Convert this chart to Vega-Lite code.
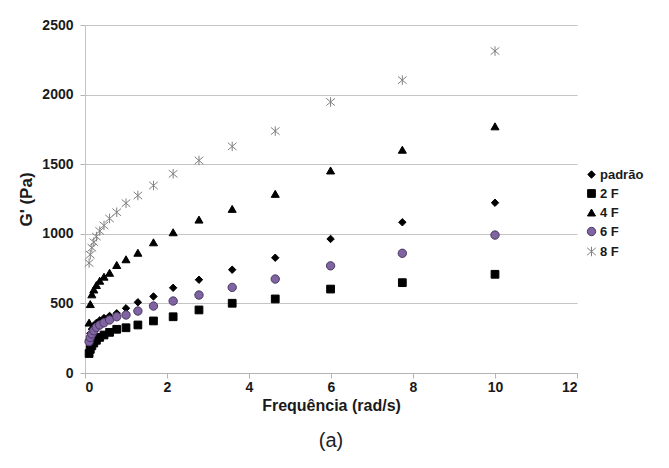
{
  "$schema": "https://vega.github.io/schema/vega-lite/v6.json",
  "autosize": {"type": "none"},
  "width": 492,
  "height": 348,
  "padding": {"left": 85, "top": 25, "right": 92, "bottom": 95},
  "background": "white",
  "title": {"text": "(a)", "orient": "bottom", "anchor": "middle", "offset": 18, "fontSize": 20, "fontWeight": "normal", "font": "Liberation Sans", "color": "#222"},
  "config": {
    "view": {"stroke": null},
    "font": "Liberation Sans"
  },
  "data": {"values": [
    {"s": "padrão", "f": 0.1, "g": 240}, {"s": "padrão", "f": 0.129, "g": 285}, {"s": "padrão", "f": 0.167, "g": 315}, {"s": "padrão", "f": 0.215, "g": 340}, {"s": "padrão", "f": 0.278, "g": 360}, {"s": "padrão", "f": 0.359, "g": 378}, {"s": "padrão", "f": 0.464, "g": 395}, {"s": "padrão", "f": 0.599, "g": 410}, {"s": "padrão", "f": 0.774, "g": 429}, {"s": "padrão", "f": 1.0, "g": 465}, {"s": "padrão", "f": 1.29, "g": 508}, {"s": "padrão", "f": 1.67, "g": 550}, {"s": "padrão", "f": 2.15, "g": 612}, {"s": "padrão", "f": 2.78, "g": 670}, {"s": "padrão", "f": 3.59, "g": 742}, {"s": "padrão", "f": 4.64, "g": 828}, {"s": "padrão", "f": 5.99, "g": 963}, {"s": "padrão", "f": 7.74, "g": 1083}, {"s": "padrão", "f": 10, "g": 1223},
    {"s": "2 F", "f": 0.1, "g": 140}, {"s": "2 F", "f": 0.129, "g": 170}, {"s": "2 F", "f": 0.167, "g": 195}, {"s": "2 F", "f": 0.215, "g": 215}, {"s": "2 F", "f": 0.278, "g": 235}, {"s": "2 F", "f": 0.359, "g": 256}, {"s": "2 F", "f": 0.464, "g": 273}, {"s": "2 F", "f": 0.599, "g": 292}, {"s": "2 F", "f": 0.774, "g": 314}, {"s": "2 F", "f": 1.0, "g": 325}, {"s": "2 F", "f": 1.29, "g": 345}, {"s": "2 F", "f": 1.67, "g": 374}, {"s": "2 F", "f": 2.15, "g": 404}, {"s": "2 F", "f": 2.78, "g": 453}, {"s": "2 F", "f": 3.59, "g": 501}, {"s": "2 F", "f": 4.64, "g": 532}, {"s": "2 F", "f": 5.99, "g": 603}, {"s": "2 F", "f": 7.74, "g": 649}, {"s": "2 F", "f": 10, "g": 709},
    {"s": "4 F", "f": 0.1, "g": 362}, {"s": "4 F", "f": 0.129, "g": 495}, {"s": "4 F", "f": 0.167, "g": 565}, {"s": "4 F", "f": 0.215, "g": 600}, {"s": "4 F", "f": 0.278, "g": 632}, {"s": "4 F", "f": 0.359, "g": 663}, {"s": "4 F", "f": 0.464, "g": 692}, {"s": "4 F", "f": 0.599, "g": 720}, {"s": "4 F", "f": 0.774, "g": 776}, {"s": "4 F", "f": 1.0, "g": 817}, {"s": "4 F", "f": 1.29, "g": 864}, {"s": "4 F", "f": 1.67, "g": 939}, {"s": "4 F", "f": 2.15, "g": 1011}, {"s": "4 F", "f": 2.78, "g": 1102}, {"s": "4 F", "f": 3.59, "g": 1179}, {"s": "4 F", "f": 4.64, "g": 1287}, {"s": "4 F", "f": 5.99, "g": 1455}, {"s": "4 F", "f": 7.74, "g": 1604}, {"s": "4 F", "f": 10, "g": 1772},
    {"s": "6 F", "f": 0.1, "g": 225}, {"s": "6 F", "f": 0.129, "g": 255}, {"s": "6 F", "f": 0.167, "g": 280}, {"s": "6 F", "f": 0.215, "g": 304}, {"s": "6 F", "f": 0.278, "g": 328}, {"s": "6 F", "f": 0.359, "g": 345}, {"s": "6 F", "f": 0.464, "g": 361}, {"s": "6 F", "f": 0.599, "g": 381}, {"s": "6 F", "f": 0.774, "g": 404}, {"s": "6 F", "f": 1.0, "g": 417}, {"s": "6 F", "f": 1.29, "g": 445}, {"s": "6 F", "f": 1.67, "g": 481}, {"s": "6 F", "f": 2.15, "g": 517}, {"s": "6 F", "f": 2.78, "g": 560}, {"s": "6 F", "f": 3.59, "g": 615}, {"s": "6 F", "f": 4.64, "g": 675}, {"s": "6 F", "f": 5.99, "g": 770}, {"s": "6 F", "f": 7.74, "g": 860}, {"s": "6 F", "f": 10, "g": 991},
    {"s": "8 F", "f": 0.1, "g": 790}, {"s": "8 F", "f": 0.129, "g": 850}, {"s": "8 F", "f": 0.167, "g": 900}, {"s": "8 F", "f": 0.215, "g": 940}, {"s": "8 F", "f": 0.278, "g": 980}, {"s": "8 F", "f": 0.359, "g": 1020}, {"s": "8 F", "f": 0.464, "g": 1060}, {"s": "8 F", "f": 0.599, "g": 1110}, {"s": "8 F", "f": 0.774, "g": 1155}, {"s": "8 F", "f": 1.0, "g": 1220}, {"s": "8 F", "f": 1.29, "g": 1275}, {"s": "8 F", "f": 1.67, "g": 1347}, {"s": "8 F", "f": 2.15, "g": 1431}, {"s": "8 F", "f": 2.78, "g": 1527}, {"s": "8 F", "f": 3.59, "g": 1628}, {"s": "8 F", "f": 4.64, "g": 1738}, {"s": "8 F", "f": 5.99, "g": 1947}, {"s": "8 F", "f": 7.74, "g": 2104}, {"s": "8 F", "f": 10, "g": 2313}
  ]},
  "mark": {"type": "point", "filled": true, "opacity": 1, "strokeWidth": 1},
  "encoding": {
    "x": {
      "field": "f", "type": "quantitative",
      "scale": {"domain": [0, 12], "nice": false, "zero": true},
      "axis": {
        "values": [0, 2, 4, 6, 8, 10, 12],
        "format": "d",
        "title": "Frequência (rad/s)",
        "grid": false,
        "domainColor": "#b3b3b3", "tickColor": "#b3b3b3", "tickSize": 5,
        "labelFont": "Liberation Sans", "labelFontWeight": "bold", "labelFontSize": 14, "labelColor": "#1a1a1a", "labelPadding": 2,
        "titleFont": "Liberation Sans", "titleFontWeight": "bold", "titleFontSize": 16, "titleColor": "#1a1a1a", "titlePadding": 3
      }
    },
    "y": {
      "field": "g", "type": "quantitative",
      "scale": {"domain": [0, 2500], "nice": false},
      "axis": {
        "values": [0, 500, 1000, 1500, 2000, 2500],
        "format": "d",
        "title": "G' (Pa)",
        "grid": true, "gridColor": "#c4c4c4", "gridWidth": 1,
        "domainColor": "#c4c4c4", "tickColor": "#b3b3b3", "tickSize": 5,
        "labelFont": "Liberation Sans", "labelFontWeight": "bold", "labelFontSize": 14, "labelColor": "#1a1a1a", "labelPadding": 7,
        "titleFont": "Liberation Sans", "titleFontWeight": "bold", "titleFontSize": 17, "titleColor": "#1a1a1a", "titlePadding": 6
      }
    },
    "color": {
      "field": "s", "type": "nominal",
      "scale": {"domain": ["padrão", "2 F", "4 F", "6 F", "8 F"], "range": ["#000000", "#000000", "#000000", "#8064a2", "#808080"]},
      "legend": {
        "title": null, "orient": "none", "legendX": 500, "legendY": 143, "direction": "vertical",
        "labelFont": "Liberation Sans", "labelFontWeight": "bold", "labelFontSize": 13, "labelColor": "#1a1a1a",
        "rowPadding": 5, "symbolSize": 60, "labelOffset": 2, "padding": 0, "symbolStrokeWidth": 1
      }
    },
    "shape": {
      "field": "s", "type": "nominal",
      "scale": {"domain": ["padrão", "2 F", "4 F", "6 F", "8 F"], "range": ["diamond", "square", "triangle-up", "circle", "M-1,-0.85L1,0.85M-1,0.85L1,-0.85M0,-1.1L0,1.1"]}
    },
    "stroke": {
      "field": "s", "type": "nominal",
      "scale": {"domain": ["padrão", "2 F", "4 F", "6 F", "8 F"], "range": ["#000000", "#000000", "#000000", "#4a3a63", "#808080"]}
    },
    "size": {
      "field": "s", "type": "nominal",
      "scale": {"domain": ["padrão", "2 F", "4 F", "6 F", "8 F"], "range": [55, 75, 95, 90, 120]},
      "legend": null
    }
  }
}
